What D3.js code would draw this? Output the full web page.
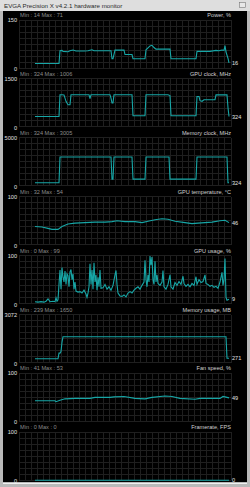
<!DOCTYPE html>
<html>
<head>
<meta charset="utf-8">
<script src="https://cdnjs.cloudflare.com/ajax/libs/d3/7.8.5/d3.min.js"></script>
<style>
body{margin:0;background:#000;overflow:hidden;}
text{font-family:"Liberation Sans",Arial,sans-serif;}
</style>
</head>
<body>
<div id="monitor"></div>
<script>
var windowTitle = "EVGA Precision X v4.2.1 hardware monitor";

// one entry per graph, top to bottom
var graphNames = ["Power, %", "GPU clock, MHz", "Memory clock, MHz", "GPU temperature, \u00b0C",
                  "GPU usage, %", "Memory usage, MB", "Fan speed, %", "Framerate, FPS"];
var graphTop = [150, 1500, 5000, 100, 100, 3072, 100, 100];
var minSeen = [14, 324, 324, 32, 0, 239, 41, 0];
var maxSeen = [71, 1006, 3005, 54, 99, 1650, 53, 0];
var lastValue = [16, 324, 324, 46, 9, 271, 49, 0];

// samples: [seconds, value]
var powerData = [[16,14],[40,14],[41,54],[43,55],[44,52],[49,51],[51,54],[54,56],[57,53],[65,53],[69,54],[73,57],
  [75,54],[92,54],[93,29],[94,29],[96,56],[105,56],[106,42],[113,42],[114,29],[126,29],[127,57],[131,69],[133,71],
  [135,64],[137,59],[151,59],[152,29],[177,29],[178,52],[191,52],[197,55],[200,54],[203,56],[205,55],[206,70],
  [207,50],[209,30],[210,16]];
var gpuClockData = [[16,324],[40,324],[41,1006],[43,1006],[45,1000],[47,800],[49,690],[51,690],[52,1006],[70,1006],
  [71,880],[72,1006],[91,1006],[92,900],[93,750],[94,750],[95,1006],[113,1006],[114,350],[126,350],[127,1006],
  [149,1006],[151,980],[152,350],[177,350],[178,950],[180,950],[181,820],[183,800],[185,850],[196,850],[197,1000],
  [208,1000],[209,600],[210,324]];
var memClockData = [[16,324],[40,324],[41,3005],[92,3005],[93,700],[94,700],[95,3005],[113,3005],[114,700],
  [126,700],[127,3005],[150,3005],[151,700],[177,700],[178,3005],[208,3005],[209,324],[210,324]];
var gpuTempData = [[16,38],[23,37],[29,34],[33,32],[39,32],[43,38],[49,43],[56,45],[66,46],[76,47],[86,47],[93,48],
  [98,50],[106,48],[116,48],[123,46],[129,49],[136,52],[143,54],[149,53],[156,49],[166,46],[173,44],[179,45],
  [186,46],[193,47],[201,50],[206,51],[210,46]];
var gpuUsageData = [[16,4],[19,3],[22,4],[25,3],[27,5],[29,10],[31,4],[34,5],[36,4],[37,12],[38,5],[39,8],[40,40],
  [41,70],[42,30],[43,75],[44,55],[45,45],[46,68],[47,40],[48,62],[49,58],[50,35],[51,66],[52,71],[53,50],[54,62],
  [55,30],[56,45],[57,26],[59,24],[61,25],[63,22],[65,28],[67,20],[68,13],[69,22],[70,35],[71,83],[72,40],[73,70],
  [74,30],[75,85],[76,45],[77,60],[78,28],[79,55],[80,35],[81,70],[82,32],[84,33],[86,40],[88,30],[90,35],[92,28],
  [94,38],[96,60],[97,69],[98,40],[99,22],[101,16],[103,15],[105,18],[107,14],[109,22],[111,25],[113,22],[115,28],
  [117,32],[119,35],[121,30],[123,38],[125,45],[126,90],[127,50],[128,35],[129,60],[130,45],[131,99],[132,80],
  [133,97],[134,50],[135,40],[136,88],[137,45],[138,60],[139,42],[141,38],[143,45],[144,69],[145,35],[147,30],
  [149,40],[151,60],[152,35],[154,30],[156,44],[158,38],[160,46],[162,40],[164,57],[165,42],[167,36],[169,40],
  [171,35],[173,42],[175,38],[177,56],[178,40],[180,50],[182,44],[184,46],[186,60],[187,42],[189,40],[191,36],
  [193,38],[195,34],[197,36],[199,32],[201,45],[203,65],[204,38],[205,50],[206,94],[207,13],[208,7],[209,8],[210,9]];
var memUsageData = [[16,239],[39,239],[40,600],[41,600],[42,700],[43,1300],[44,1650],[207,1650],[208,271],[210,271]];
var fanData = [[16,43],[36,43],[37,41],[41,44],[46,47],[56,48],[71,48],[76,50],[91,50],[95,51],[105,52],[116,48],
  [126,47],[133,50],[146,53],[153,52],[161,48],[176,46],[181,48],[191,48],[201,48],[204,52],[208,50],[210,49]];
var fpsData = [[16,0],[210,0]];

var allData = [powerData, gpuClockData, memClockData, gpuTempData, gpuUsageData, memUsageData, fanData, fpsData];

var width = 250, height = 487;
var panelStart = 12, panelStep = 58.9;
var plotLeft = 19, plotRight = 231;
var lineColor = "#17a6a6";

var svg = d3.select("#monitor").append("svg")
  .attr("width", width).attr("height", height);

// window frame
svg.append("rect").attr("width", width).attr("height", height).attr("fill", "#b9b9b9");
svg.append("rect").attr("x", 0).attr("y", 0).attr("width", width).attr("height", 11).attr("fill", "#dedede");
svg.append("text").attr("x", 4).attr("y", 8).attr("font-size", "6.2px").attr("fill", "#2a2a2a").text(windowTitle);
svg.append("rect").attr("x", 239.5).attr("y", 2.5).attr("width", 6).attr("height", 5)
  .attr("fill", "#e8e8e8").attr("stroke", "#777").attr("stroke-width", 0.6);
svg.append("rect").attr("x", 3).attr("y", 11).attr("width", 244).attr("height", 471).attr("fill", "#000");
svg.append("line").attr("x1", 3).attr("x2", 247).attr("y1", 483.5).attr("y2", 483.5).attr("stroke", "#f0f0f0");

var x = d3.scaleLinear().domain([0, 212]).range([plotLeft, plotRight]);

allData.forEach(function (data, i) {
  var oy = panelStart + i * panelStep;
  var top = oy + 8, bottom = oy + 56;
  var y = d3.scaleLinear().domain([0, graphTop[i]]).range([bottom, top]);
  var g = svg.append("g");

  // grid
  var grid = g.append("g").attr("stroke", "#1f1f1f").attr("stroke-width", 1).attr("shape-rendering", "crispEdges");
  grid.selectAll("line.v").data(d3.range(36)).enter().append("line")
    .attr("x1", function (d) { return plotLeft + d * (plotRight - plotLeft) / 35; })
    .attr("x2", function (d) { return plotLeft + d * (plotRight - plotLeft) / 35; })
    .attr("y1", top).attr("y2", bottom);
  grid.selectAll("line.h").data(d3.range(9)).enter().append("line")
    .attr("x1", plotLeft).attr("x2", plotRight)
    .attr("y1", function (d) { return top + d * (bottom - top) / 8; })
    .attr("y2", function (d) { return top + d * (bottom - top) / 8; });

  // header texts
  g.append("text").attr("x", 20).attr("y", oy + 5).attr("font-size", "5.6px").attr("fill", "#8c8c8c")
    .text("Min : " + minSeen[i] + "   Max : " + maxSeen[i]);
  g.append("text").attr("x", 231).attr("y", oy + 5).attr("font-size", "5.6px").attr("fill", "#d0d0d0")
    .attr("text-anchor", "end").text(graphNames[i]);

  // y labels
  g.append("text").attr("x", 17).attr("y", y(graphTop[i]) + 2).attr("font-size", "5.6px").attr("fill", "#e0e0e0")
    .attr("text-anchor", "end").text(graphTop[i]);
  g.append("text").attr("x", 17).attr("y", y(0) + 3).attr("font-size", "5.6px").attr("fill", "#e0e0e0")
    .attr("text-anchor", "end").text(0);

  // line
  var line = d3.line().x(function (d) { return x(d[0]); }).y(function (d) { return y(d[1]); });
  g.append("path").datum(data).attr("d", line).attr("fill", "none")
    .attr("stroke", lineColor).attr("stroke-width", 1.1);

  // current value
  g.append("text").attr("x", 232).attr("y", y(lastValue[i]) + 2).attr("font-size", "5.6px").attr("fill", "#e0e0e0")
    .text(lastValue[i]);
});
</script>
</body>
</html>
